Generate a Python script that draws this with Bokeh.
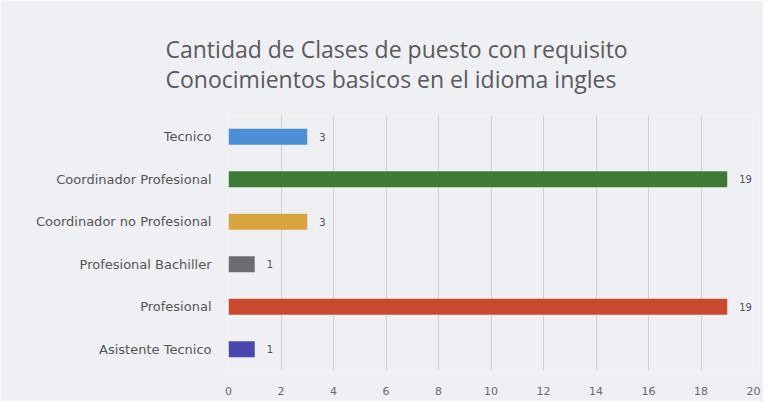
from bokeh.plotting import figure
from bokeh.models import ColumnDataSource, Title, Range1d, FactorRange
from bokeh.core.properties import value
from bokeh.embed import file_html
from bokeh.resources import INLINE

categories = ["Tecnico", "Coordinador Profesional", "Coordinador no Profesional",
              "Profesional Bachiller", "Profesional", "Asistente Tecnico"]
counts = [3, 19, 3, 1, 19, 1]
colors = ["#4b8fd6", "#3f7b37", "#d8a43c", "#6c6b70", "#c94a30", "#4a47ad"]
x_ticks = [0, 2, 4, 6, 8, 10, 12, 14, 16, 18, 20]
title_lines = ["Cantidad de Clases de puesto con requisito",
               "Conocimientos basicos en el idioma ingles"]

W, H = 763, 401
FL, FR, FT, FB = 228, 10, 115, 31
bg = "#eef0f3"

p = figure(width=W, height=H, output_backend="svg", toolbar_location=None,
           y_range=FactorRange(factors=list(reversed(categories))),
           x_range=Range1d(0, 20),
           min_border_left=FL, min_border_right=FR,
           min_border_top=FT, min_border_bottom=FB)
p.background_fill_color = bg
p.border_fill_color = bg
p.outline_line_color = None

src = ColumnDataSource(dict(cat=categories, val=counts, col=colors,
                            lab=[str(v) for v in counts]))
p.hbar(y="cat", right="val", left=0, height=0.38, fill_color="col",
       line_color=None, source=src)
p.text(x="val", y="cat", text="lab", x_offset=12, text_baseline="middle",
       text_align="left", text_font=value("DejaVu Sans"), text_font_size="10px",
       text_color="#505050", source=src)

p.xaxis.ticker = x_ticks
p.xaxis.axis_line_color = None
p.xaxis.major_tick_line_color = None
p.xaxis.minor_tick_line_color = None
p.xaxis.major_label_standoff = 10
p.xaxis.major_label_text_font = "DejaVu Sans"
p.xaxis.major_label_text_font_size = "11px"
p.xaxis.major_label_text_color = "#6a6a6a"

p.yaxis.axis_line_color = None
p.yaxis.major_tick_line_color = None
p.yaxis.minor_tick_line_color = None
p.yaxis.major_label_standoff = 11
p.yaxis.major_label_text_font = "DejaVu Sans"
p.yaxis.major_label_text_font_size = "13px"
p.yaxis.major_label_text_color = "#555555"

p.ygrid.grid_line_color = None
p.xgrid.grid_line_color = "#cfd0d4"
p.xgrid.grid_line_width = 1

p.add_layout(Title(text="\n".join(title_lines), align="left", offset=165 - FL,
                   text_font="Open Sans", text_font_size="23px",
                   text_font_style="normal", text_color="#5a5a5a",
                   text_line_height=0.93, standoff=41), "above")

open("out.html", "w").write(file_html(p, INLINE))
